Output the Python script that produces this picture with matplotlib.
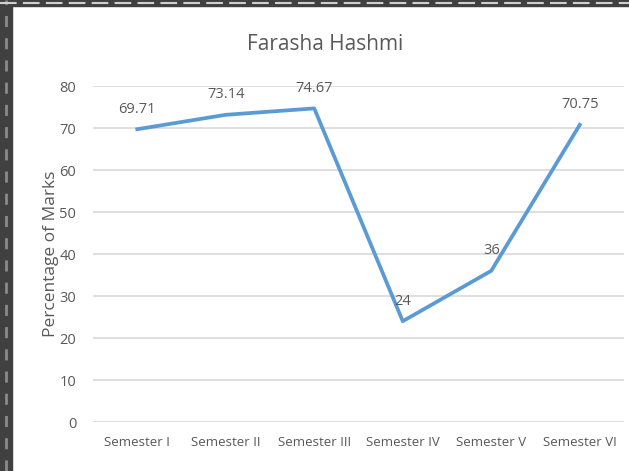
import matplotlib.pyplot as plt
from matplotlib.patches import Rectangle
from matplotlib.lines import Line2D

semesters = ['Semester I', 'Semester II', 'Semester III', 'Semester IV', 'Semester V', 'Semester VI']
marks = [69.71, 73.14, 74.67, 24, 36, 70.75]
labels = ['69.71', '73.14', '74.67', '24', '36', '70.75']

plt.rcParams['font.family'] = ['Open Sans', 'DejaVu Sans']
txt = '#595959'

fig = plt.figure(figsize=(6.29, 4.71), dpi=100)
ax = fig.add_axes([93 / 629, 1 - 422 / 471, (624 - 93) / 629, (422 - 86) / 471])

x = list(range(len(semesters)))
ax.plot(x, marks, color='#5B9BD5', lw=2.7, zorder=3)
for xi, yi, s in zip(x, marks, labels):
    ax.annotate(s, (xi, yi), xytext=(0, 9), textcoords='offset points',
                ha='center', va='bottom', fontsize=10.5, color=txt, zorder=4)

ax.set_xlim(-0.5, len(semesters) - 0.5)
ax.set_ylim(0, 80)
ax.set_yticks(range(0, 81, 10))
ax.set_xticks(x)
ax.set_xticklabels(semesters)
ax.grid(axis='y', color='#D9D9D9', lw=1.2)
ax.set_axisbelow(True)
for sp in ax.spines.values():
    sp.set_visible(False)
ax.tick_params(axis='y', length=0, labelsize=10.5, labelcolor=txt, pad=12)
ax.tick_params(axis='x', length=0, labelsize=9.5, labelcolor=txt, pad=10)
ax.set_ylabel('Percentage of Marks', fontsize=12.5, color=txt, labelpad=0)

fig.text(325 / 629, 1 - 45 / 471, 'Farasha Hashmi', ha='center', va='center', fontsize=15, color=txt)

# selection frame around the chart (dashed border on left and top)
fig.add_artist(Rectangle((0, 0), 12 / 629, 1, transform=fig.transFigure, color='#404040', zorder=0))
fig.add_artist(Rectangle((0, 1 - 6 / 471), 1, 6 / 471, transform=fig.transFigure, color='#404040', zorder=0))
fig.add_artist(Line2D([6 / 629, 6 / 629], [0, 1], transform=fig.transFigure, color='#8a8a8a',
                      lw=2, ls=(0, (4, 4)), zorder=1))
fig.add_artist(Line2D([0, 1], [1 - 3 / 471, 1 - 3 / 471], transform=fig.transFigure, color='#d0d0d0',
                      lw=1.5, ls=(0, (8, 3)), zorder=1))

fig.savefig('out.png', dpi=100)
